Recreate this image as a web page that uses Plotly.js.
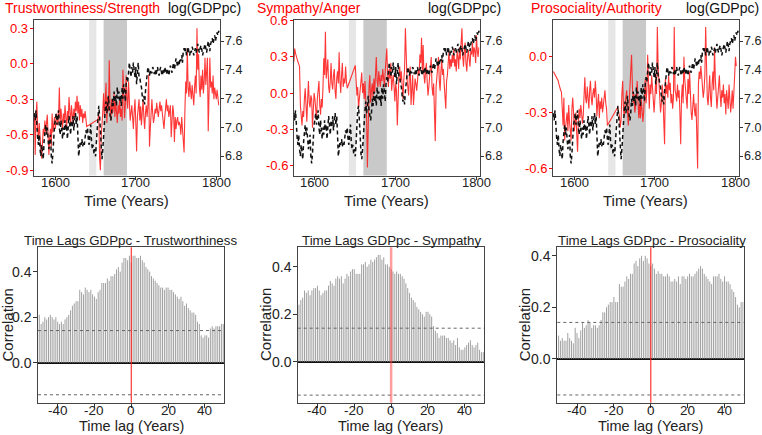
<!DOCTYPE html>
<html><head><meta charset="utf-8">
<script src="https://cdn.plot.ly/plotly-3.0.1.min.js"></script>
<style>html,body{margin:0;padding:0;background:#fff}#chart{width:762px;height:435px}</style>
</head><body><div id="chart"></div>
<script>
// ---------- DATA ----------
const firstYear = 1574, lastYear = 1804;
const gdpLog = [
 7.10,7.05,7.12,7.00,6.93,6.88,
 6.95,6.85,6.80,6.88,6.82,6.78,6.90,6.98,7.02,6.95,
 7.00,6.92,6.85,6.90,6.95,6.80,6.75,6.82,6.95,7.02,
 7.05,7.10,7.02,7.08,7.12,7.00,6.95,7.05,6.98,6.92,
 7.00,6.95,7.05,6.98,7.02,6.92,7.00,7.08,7.02,6.95,
 7.05,7.00,7.08,6.98,7.05,7.10,7.02,7.08,6.95,6.80,
 6.85,6.90,6.88,6.92,6.87,6.90,6.88,6.93,6.98,6.95,
 7.00,6.92,6.88,6.95,7.02,6.90,6.85,6.88,6.82,6.85,
 6.80,6.90,7.02,7.12,7.15,7.08,6.95,6.82,6.78,6.85,
 6.98,7.05,7.12,7.18,7.10,7.15,7.22,7.12,7.08,7.05,
 7.10,7.20,7.15,7.25,7.18,7.22,7.15,7.28,7.20,7.25,
 7.18,7.22,7.15,7.28,7.20,7.30,7.25,7.18,7.30,7.35,
 7.32,7.38,7.45,7.40,7.35,7.42,7.38,7.45,7.40,7.35,
 7.42,7.30,7.38,7.45,7.35,7.35,7.30,7.28,7.22,7.18,
 7.22,7.16,7.25,7.32,7.38,7.42,7.40,7.36,7.40,7.38,
 7.38,7.42,7.40,7.37,7.40,7.36,7.39,7.42,7.38,7.36,
 7.40,7.42,7.38,7.36,7.40,7.38,7.42,7.40,7.37,7.41,
 7.38,7.36,7.40,7.43,7.40,7.38,7.42,7.45,7.40,7.43,
 7.48,7.45,7.42,7.46,7.44,7.48,7.46,7.50,7.45,7.53,
 7.55,7.52,7.55,7.50,7.53,7.56,7.52,7.50,7.54,7.52,
 7.56,7.54,7.50,7.53,7.55,7.52,7.56,7.58,7.54,7.52,
 7.55,7.57,7.54,7.50,7.53,7.56,7.58,7.55,7.52,7.56,
 7.60,7.57,7.53,7.58,7.60,7.62,7.58,7.61,7.64,7.60,
 7.63,7.66,7.64,7.67,7.66];
const trustStrength = [
 -0.42,-0.77,-0.45,-0.32,-0.55,-0.62,
 -0.50,-0.66,-0.72,-0.80,-0.65,-0.55,-0.60,-0.48,-0.58,-0.52,
 -0.43,-0.60,-0.77,-0.62,-0.55,-0.70,-0.42,-0.58,-0.50,-0.45,
 -0.55,-0.48,-0.42,-0.52,-0.45,-0.20,-0.50,-0.38,-0.45,-0.55,
 -0.42,-0.50,-0.35,-0.48,-0.55,-0.40,-0.48,-0.28,-0.45,-0.52,
 -0.35,-0.42,-0.50,-0.38,-0.45,-0.32,-0.40,-0.27,-0.42,-0.32,
 -0.48,-0.35,-0.45,-0.38,-0.50,-0.42,-0.46,-0.40,-0.48,-0.53,
 null,null,null,null,null,null,null,null,null,null,
 null,null,null,-0.47,-0.42,-0.80,-0.90,-0.62,-0.53,-0.40,
 -0.25,-0.45,-0.32,-0.16,-0.50,-0.28,-0.40,0.03,-0.35,-0.48,
 -0.30,-0.42,-0.38,-0.25,-0.45,-0.32,-0.40,-0.50,-0.35,-0.42,
 -0.28,-0.45,-0.38,-0.48,-0.05,-0.40,-0.46,-0.35,-0.10,-0.30,
 -0.38,-0.15,-0.40,-0.48,-0.42,-0.35,-0.45,-0.55,-0.40,-0.30,
 -0.50,-0.74,-0.45,-0.38,-0.30,-0.48,-0.36,-0.52,-0.40,-0.30,
 -0.45,-0.55,-0.42,-0.35,-0.45,-0.35,-0.09,-0.70,-0.55,-0.40,
 -0.30,-0.42,-0.50,-0.45,-0.38,-0.42,-0.33,-0.40,-0.45,-0.38,
 -0.32,-0.40,-0.35,-0.42,-0.48,-0.55,-0.45,-0.38,-0.30,-0.40,
 -0.35,-0.45,-0.40,-0.35,-0.62,-0.48,-0.35,-0.42,-0.66,-0.45,
 -0.55,-0.48,-0.45,-0.52,-0.49,-0.52,-0.60,-0.45,-0.55,-0.65,
 -0.75,-0.40,-0.15,-0.25,0.13,-0.20,-0.28,-0.15,-0.22,-0.30,
 -0.18,-0.25,-0.35,-0.20,-0.10,-0.25,0.30,-0.05,0.08,-0.20,
 -0.28,-0.10,-0.22,-0.05,-0.25,-0.15,0.05,-0.18,-0.10,0.05,
 -0.57,-0.08,0.05,-0.20,-0.15,-0.25,-0.10,-0.30,-0.20,-0.25,
 -0.30,-0.22,-0.28,-0.35,null];
const sympathyAnger = [
 0.26,0.37,0.33,0.30,0.28,0.26,
 0.24,0.22,-0.10,-0.22,-0.27,-0.15,-0.20,-0.05,0.04,-0.10,
 -0.24,-0.05,0.10,-0.08,-0.12,-0.02,-0.05,-0.29,-0.10,0.00,
 -0.05,-0.15,-0.22,-0.05,0.02,0.10,-0.10,-0.18,-0.05,-0.12,
 0.05,0.29,0.15,0.51,0.12,0.20,0.28,0.05,0.00,0.10,
 0.25,0.08,0.03,0.15,0.20,0.02,-0.05,0.12,0.18,0.08,
 0.34,0.10,0.00,0.15,0.25,0.05,0.12,0.08,0.22,0.10,
 0.04,null,null,null,null,null,null,null,null,null,
 0.23,0.10,-0.02,0.05,-0.13,-0.05,0.05,0.12,0.17,0.00,
 0.08,-0.05,0.10,-0.08,-0.20,-0.62,-0.10,0.05,0.15,-0.08,
 0.02,0.08,-0.05,0.12,0.00,0.22,0.30,0.10,0.05,0.18,
 0.12,0.05,0.15,0.10,0.20,0.12,0.05,0.18,0.25,0.37,
 0.15,0.05,0.20,0.12,0.25,0.02,0.10,0.15,0.05,-0.07,
 0.08,0.02,-0.27,0.05,0.15,0.22,0.10,0.18,0.05,-0.05,
 0.10,0.20,0.54,0.25,0.12,0.05,-0.02,0.15,0.22,-0.10,
 0.05,0.15,-0.10,0.05,0.12,0.08,0.02,0.10,0.20,0.15,
 0.32,0.25,0.46,0.18,0.40,0.15,0.08,0.18,0.25,0.10,
 -0.02,0.05,0.15,0.22,0.30,0.05,-0.02,0.08,-0.10,-0.40,
 0.05,0.12,0.20,0.30,0.10,0.02,0.18,0.28,0.15,0.20,
 0.08,-0.05,-0.13,0.10,0.15,0.25,0.35,0.20,0.28,0.22,
 0.32,0.25,0.37,0.22,0.28,0.18,0.35,0.30,0.20,0.38,
 0.28,0.42,0.54,0.30,0.22,0.35,0.42,0.25,0.18,0.30,
 0.36,0.28,0.22,0.35,0.32,0.42,0.30,0.38,0.35,0.25,
 0.48,0.35,0.30,0.38,null];
const prosocialityAuthority = [
 -0.08,-0.09,-0.10,-0.11,-0.12,-0.12,
 -0.13,-0.15,-0.17,-0.18,-0.19,-0.30,-0.37,-0.22,-0.45,-0.38,
 -0.32,-0.30,-0.40,-0.26,-0.35,-0.40,-0.45,-0.28,-0.22,-0.30,
 -0.40,-0.35,-0.30,-0.42,-0.51,-0.35,-0.28,-0.33,-0.26,-0.30,
 -0.36,-0.32,-0.20,-0.11,-0.22,-0.25,-0.16,-0.24,-0.28,-0.18,
 -0.13,-0.22,-0.26,-0.20,-0.17,-0.22,-0.13,-0.20,-0.32,-0.25,
 -0.20,-0.33,-0.24,-0.28,-0.22,-0.30,-0.26,-0.20,-0.18,-0.25,
 -0.28,-0.37,null,null,null,null,null,null,null,null,
 null,null,null,null,-0.27,-0.30,-0.32,-0.38,-0.34,-0.20,
 -0.13,-0.28,-0.32,-0.25,-0.22,-0.18,-0.30,-0.37,-0.25,-0.18,
 -0.08,0.01,-0.15,-0.25,-0.20,-0.30,-0.27,-0.18,-0.13,-0.24,
 -0.33,-0.25,-0.33,-0.22,-0.28,-0.35,-0.30,-0.15,-0.12,-0.25,
 -0.18,0.01,-0.22,-0.28,-0.15,-0.20,-0.10,-0.18,-0.25,-0.30,
 -0.22,-0.12,-0.20,0.16,-0.05,-0.18,-0.22,-0.30,-0.25,-0.15,
 -0.20,-0.35,-0.47,-0.12,-0.20,-0.15,-0.22,-0.10,-0.18,-0.14,
 -0.25,-0.20,-0.28,-0.22,0.16,-0.18,-0.20,-0.24,-0.15,-0.22,
 -0.18,-0.30,-0.47,-0.22,-0.15,-0.25,0.00,-0.12,-0.18,-0.22,
 -0.28,-0.12,-0.20,-0.08,-0.24,-0.30,-0.34,-0.26,-0.20,-0.28,
 -0.32,-0.25,-0.40,-0.60,-0.15,-0.08,-0.12,-0.05,-0.10,-0.15,
 -0.22,-0.18,-0.10,0.16,-0.15,-0.22,-0.26,-0.18,-0.10,-0.22,
 -0.27,-0.15,-0.08,-0.18,0.05,-0.12,-0.20,-0.28,-0.22,-0.15,
 -0.10,-0.20,-0.27,-0.18,-0.22,-0.15,-0.25,-0.20,-0.31,-0.18,
 -0.24,-0.28,-0.15,-0.22,-0.30,-0.25,-0.18,-0.28,-0.12,-0.10,
 0.00,-0.05,null,null,null];

const lagMin = -50, lagMax = 50;
const lagTrust = [
 0.21,0.17,0.18,0.20,0.19,0.20,0.21,0.20,0.19,0.20,
 0.18,0.17,0.18,0.17,0.19,0.20,0.21,0.23,0.25,0.26,
 0.27,0.27,0.32,0.31,0.30,0.33,0.32,0.31,0.32,0.30,
 0.29,0.28,0.31,0.32,0.35,0.35,0.35,0.37,0.36,0.38,
 0.38,0.39,0.41,0.42,0.40,0.44,0.46,0.46,0.45,0.47,
 0.44,0.47,0.47,0.46,0.46,0.47,0.45,0.44,0.42,0.41,
 0.40,0.38,0.37,0.36,0.35,0.34,0.33,0.33,0.32,0.33,
 0.33,0.32,0.32,0.31,0.30,0.29,0.28,0.29,0.27,0.25,
 0.26,0.24,0.23,0.22,0.22,0.21,0.18,0.17,0.12,0.11,
 0.12,0.12,0.11,0.15,0.16,0.15,0.16,0.16,0.16,0.17,0.17];
const lagSympathy = [
 0.24,0.26,0.27,0.30,0.29,0.30,0.28,0.30,0.31,0.31,
 0.32,0.30,0.28,0.29,0.30,0.30,0.32,0.34,0.33,0.32,
 0.35,0.36,0.35,0.36,0.33,0.35,0.37,0.36,0.38,0.39,
 0.39,0.37,0.37,0.37,0.41,0.41,0.42,0.40,0.41,0.43,
 0.42,0.43,0.44,0.45,0.45,0.43,0.44,0.41,0.41,0.40,
 0.39,0.38,0.37,0.38,0.37,0.37,0.36,0.35,0.33,0.31,
 0.29,0.27,0.26,0.25,0.23,0.22,0.21,0.20,0.19,0.21,
 0.21,0.20,0.19,0.15,0.13,0.12,0.10,0.11,0.11,0.11,
 0.10,0.10,0.09,0.08,0.09,0.07,0.10,0.06,0.05,0.05,
 0.06,0.07,0.08,0.09,0.07,0.06,0.07,0.08,0.05,0.04,0.04];
const lagProsocial = [
 0.09,0.07,0.08,0.07,0.07,0.10,0.08,0.07,0.06,0.12,
 0.10,0.08,0.11,0.14,0.12,0.13,0.15,0.14,0.12,0.13,
 0.13,0.12,0.13,0.15,0.18,0.18,0.20,0.21,0.22,0.22,
 0.24,0.22,0.22,0.29,0.28,0.28,0.30,0.32,0.31,0.33,
 0.33,0.37,0.38,0.36,0.39,0.40,0.38,0.40,0.39,0.37,
 0.36,0.37,0.35,0.33,0.34,0.33,0.33,0.32,0.32,0.33,
 0.32,0.30,0.30,0.31,0.30,0.32,0.29,0.32,0.32,0.31,
 0.32,0.33,0.32,0.32,0.33,0.34,0.35,0.36,0.35,0.33,
 0.32,0.31,0.30,0.29,0.32,0.32,0.32,0.33,0.31,0.30,
 0.32,0.30,0.30,0.29,0.27,0.26,0.24,0.21,0.20,0.22,0.22];
const ciBound = 0.141;
const civilWar = [1642, 1651];
const restoration = [1660, 1689];

const topTitles = ["Trustworthiness/Strength", "Sympathy/Anger", "Prosociality/Authority"];
const rightTitle = "log(GDPpc)";
const bottomTitles = ["Time Lags GDPpc - Trustworthiness", "Time Lags GDPpc - Sympathy", "Time Lags GDPpc - Prosociality"];
const yearTicks = [1600, 1700, 1800];
const yearTickText = ["1600", "1700", "1800"];
const gdpTicks = [6.8, 7.0, 7.2, 7.4, 7.6];
const gdpTickText = ["6.8", "7.0", "7.2", "7.4", "7.6"];
const leftTicks = [[0.3, 0, -0.3, -0.6, -0.9], [0.6, 0.3, 0, -0.3, -0.6], [0, -0.3, -0.6]];
const leftTickText = [["0.3", "0.0", "-0.3", "-0.6", "-0.9"], ["0.6", "0.3", "0.0", "-0.3", "-0.6"], ["0.0", "-0.3", "-0.6"]];
const lagTicks = [-40, -20, 0, 20, 40];
const lagTickText = ["-40", "-20", "0", "20", "40"];
const corrTicks = [0, 0.2, 0.4];
const corrTickText = ["0.0", "0.2", "0.4"];

// ---------- LAYOUT HELPERS ----------
const W = 762, H = 435;
const px = v => v / W, py = v => 1 - v / H;
const FONT = "Liberation Sans, Arial, Helvetica, sans-serif";

const years = [];
for (let y = firstYear; y <= lastYear; y++) years.push(y);
const lags = [];
for (let l = lagMin; l <= lagMax; l++) lags.push(l);

const redSeries = [trustStrength, sympathyAnger, prosocialityAuthority];
const lagSeries = [lagTrust, lagSympathy, lagProsocial];
const topBoxes = [[34, 219.5], [293.5, 479.7], [553, 738.7]];
const topY = [20, 175.5];
const leftRanges = [[-0.944, 0.370], [-0.687, 0.608], [-0.638, 0.197]];
const gdpRange = [6.667, 7.746];
const botBoxes = [[38, 224], [297.7, 484], [557.3, 743.7]];
const botY = [247.3, 402.7];
const botRanges = [[-0.176, 0.507], [-0.173, 0.482], [-0.171, 0.433]];
const yearRange = [1573.5, 1804];
const lagRange = [-50.7, 50.4];

const data = [];
const layout = {
  width: W, height: H, margin: {l: 0, r: 0, t: 0, b: 0},
  paper_bgcolor: "#fff", plot_bgcolor: "#fff", showlegend: false,
  font: {family: FONT, size: 13, color: "#222"},
  shapes: [], annotations: []
};

const frame = {showline: true, mirror: true, linecolor: "#444", linewidth: 1, showticklabels: false,
  showgrid: false, zeroline: false, ticks: "outside", ticklen: 3, tickcolor: "#333", tickwidth: 1};

function ann(o) { layout.annotations.push(Object.assign({showarrow: false, borderpad: 0}, o)); }

for (let i = 0; i < 3; i++) {
  const xa = "x" + (i + 1), yl = "y" + (2 * i + 1), yr = "y" + (2 * i + 2);
  const xk = "xaxis" + (i === 0 ? "" : i + 1);
  const ylk = "yaxis" + (i === 0 ? "" : 2 * i + 1);
  const yrk = "yaxis" + (2 * i + 2);
  const [L, R] = topBoxes[i];
  layout[xk] = Object.assign({}, frame, {domain: [px(L), px(R)],
    range: yearRange, anchor: yl, tickmode: "array", tickvals: yearTicks});
  layout[ylk] = Object.assign({}, frame, {domain: [py(topY[1]), py(topY[0])], range: leftRanges[i],
    anchor: xa, tickmode: "array", tickvals: leftTicks[i], tickcolor: "red"});
  layout[yrk] = Object.assign({}, frame, {overlaying: yl, side: "right", range: gdpRange, anchor: xa,
    tickmode: "array", tickvals: gdpTicks});

  yearTicks.forEach((t, k) => ann({xref: xa, yref: "paper", x: t, y: py(182.5), xanchor: "center", yanchor: "middle",
    text: yearTickText[k], font: {size: 13, color: "#222"}}));
  leftTicks[i].forEach((t, k) => ann({xref: "paper", yref: yl, x: px(L - 5), y: t, xanchor: "right", yanchor: "middle",
    text: leftTickText[i][k], font: {size: 13, color: "red"}}));
  gdpTicks.forEach((t, k) => ann({xref: "paper", yref: yr, x: px(R + 4.5), y: t, xanchor: "left", yanchor: "middle",
    text: gdpTickText[k], font: {size: 12.5, color: "#222"}}));

  // shaded periods
  [[civilWar, "#e6e6e6"], [restoration, "#c9c9c9"]].forEach(([p, c]) => {
    layout.shapes.push({type: "rect", xref: xa, yref: yl + " domain", x0: p[0], x1: p[1], y0: 0, y1: 1,
      fillcolor: c, line: {width: 0}, layer: "below"});
  });

  data.push({type: "scatter", mode: "lines", x: years, y: redSeries[i], xaxis: xa, yaxis: yl,
    connectgaps: true, line: {color: "rgba(255,20,20,0.85)", width: 1.1}, hoverinfo: "skip"});
  data.push({type: "scatter", mode: "lines", x: years, y: gdpLog, xaxis: xa, yaxis: yr,
    line: {color: "#111", width: 1.5, dash: "4px,3px"}, hoverinfo: "skip"});

  ann({xref: "paper", yref: "paper", x: px([4, 255.7, 529.7][i]), y: py(7.5),
    xanchor: "left", yanchor: "middle", text: topTitles[i], font: {size: 14, color: "red"}});
  ann({xref: "paper", yref: "paper", x: px([242, 502, 760][i]), y: py(7.5),
    xanchor: "right", yanchor: "middle", text: rightTitle, font: {size: 14, color: "#111"}});
  ann({xref: "paper", yref: "paper", x: px((L + R) / 2), y: py(200),
    xanchor: "center", yanchor: "middle", text: "Time (Years)", font: {size: 15, color: "#222"}});
}

const bottomTitlePos = [[238.3, "right"], [300.7, "left"], [557, "left"]];
for (let i = 0; i < 3; i++) {
  const n = 7 + i;
  const xa = "x" + (4 + i), ya = "y" + n;
  const [L, R] = botBoxes[i];
  layout["xaxis" + (4 + i)] = Object.assign({}, frame, {domain: [px(L), px(R)],
    range: lagRange, anchor: ya, tickmode: "array", tickvals: lagTicks, ticklen: 4});
  layout["yaxis" + n] = Object.assign({}, frame, {domain: [py(botY[1]), py(botY[0])], range: botRanges[i],
    anchor: xa, tickmode: "array", tickvals: corrTicks, ticklen: 4,
    zeroline: true, zerolinecolor: "#111", zerolinewidth: 2});

  lagTicks.forEach((t, k) => ann({xref: xa, yref: "paper", x: t, y: py(410.5), xanchor: "center", yanchor: "middle",
    text: lagTickText[k], font: {size: 13.5, color: "#222"}}));
  corrTicks.forEach((t, k) => ann({xref: "paper", yref: ya, x: px(L - 5), y: t, xanchor: "right", yanchor: "middle",
    text: corrTickText[k], font: {size: 14, color: "#222"}}));

  const sx = [], sy = [];
  lags.forEach((l, k) => { sx.push(l, l, null); sy.push(0, lagSeries[i][k], null); });
  data.push({type: "scatter", mode: "lines", x: sx, y: sy, xaxis: xa, yaxis: ya,
    line: {color: "#a0a0a0", width: 1}, hoverinfo: "skip"});

  [ciBound, -ciBound].forEach(v => layout.shapes.push({type: "line", xref: xa + " domain", yref: ya,
    x0: 0, x1: 1, y0: v, y1: v, line: {color: "#666", width: 1, dash: "dot"}}));
  layout.shapes.push({type: "line", xref: xa, yref: ya + " domain", x0: 0, x1: 0, y0: 0, y1: 1,
    line: i === 1 ? {color: "rgba(255,60,60,0.5)", width: 2.5} : {color: "rgba(255,30,30,0.9)", width: 1.2}});

  const cx = (L + R) / 2;
  ann({xref: "paper", yref: "paper", x: px(bottomTitlePos[i][0]), y: py(240), xanchor: bottomTitlePos[i][1], yanchor: "middle",
    text: bottomTitles[i], font: {size: 13.3, color: "#222"}});
  ann({xref: "paper", yref: "paper", x: px(cx), y: py(426), xanchor: "center", yanchor: "middle",
    text: "Time lag (Years)", font: {size: 14.5, color: "#222"}});
  ann({xref: "paper", yref: "paper", x: px([6.5, 265, 524.3][i]), y: py(325), xanchor: "center", yanchor: "middle",
    textangle: -90, text: "Correlation", font: {size: 15, color: "#222"}});
}

Plotly.newPlot("chart", data, layout, {staticPlot: true, displayModeBar: false});
</script></body></html>
